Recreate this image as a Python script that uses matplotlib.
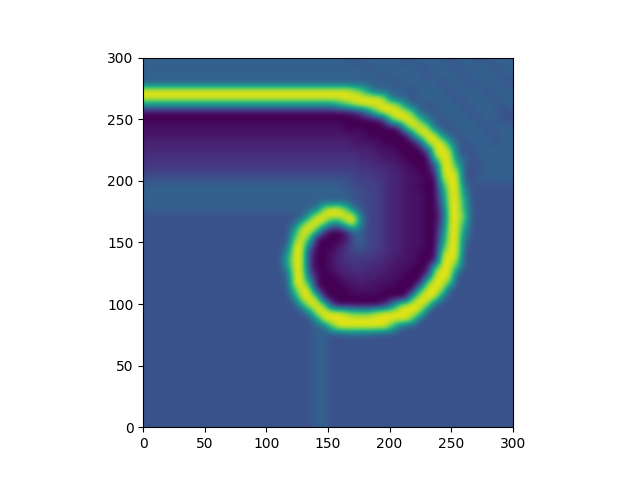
import numpy as np
import matplotlib
matplotlib.use("Agg")
import matplotlib.pyplot as plt

# hex digit in a cell -> field value
levels = [0.0, 0.05, 0.10, 0.15, 0.20, 0.25, 0.31, 0.50, 0.75, 0.96, 0.40, 0.62, 0.87]

# top row first (y = 297 down to y = 3), columns x = 3 ... 297
rows = [
    "6666666666 6666666666 6666666656 6666656666 6566656666",
    "6666666666 6666666666 6666666666 5666666566 6656666566",
    "6666666666 6666666666 6666666666 6656666656 6665666656",
    "6666666666 6666666666 6666666666 6666566666 5666566665",
    "9999999999 9999999999 99999999c8 7666665666 6566665666",
    "9999999999 9999999999 9999999999 99ca665666 6656666566",
    "7777777777 7777777777 777777b8c9 9999c76656 6665666656",
    "0000000000 0000000000 0000000013 a899998665 6666566655",
    "0000000000 0000000000 0000000000 00289998a6 5666656655",
    "1111111111 1111111111 1111111000 00001899c6 6566665666",
    "1111111111 1111111111 1111111111 0000007999 a656666566",
    "2222222222 2222222222 2222222211 1100000699 9765666566",
    "2222222222 2222222222 2222222222 2111000069 9c65566666",
    "3333333333 3333333333 3333333332 221110000c 99a6566666",
    "3333333333 3333333333 3333333333 3222110006 99b6556666",
    "4444444444 4444444444 4444444443 3332211003 99c5556666",
    "5555555555 5555555555 5555555544 4332211100 c995566666",
    "6666666666 6666666666 6666666554 4432211000 b99a555555",
    "6666666666 6666666666 6666666655 4432211100 7997555555",
    "6666666666 6666666666 6666666655 4432211100 a99b555555",
    "6666666666 6666666666 666ac998a5 4432211100 699b555555",
    "5555555555 5555555555 55b999999a 4432211100 4998555555",
    "5555555555 5555555555 6899c77c9a 4432211100 699b555555",
    "5555555555 5555555555 b9983002a6 4432211100 a997555555",
    "5555555555 5555555555 8981000156 4432211100 799a555555",
    "5555555555 5555555556 99a0001356 4432211100 b996555555",
    "5555555555 5555555557 9930012344 4332211000 c995555555",
    "5555555555 555555555b 9930012333 3322111001 99c5555555",
    "5555555555 5555555557 9930012233 2221110008 99b5555555",
    "5555555555 5555555556 9961001222 2211100049 9955555555",
    "5555555555 5555555556 99b0000112 11110001c9 9855555555",
    "5555555555 5555555555 8993000011 1100000899 c555555555",
    "5555555555 5555555555 799c100000 0000008999 a555555555",
    "5555555555 5555555555 5b99c30000 00168999c5 5555555555",
    "5555555555 5555555555 5579999c88 8c99999c55 5555555555",
    "5555555555 5555555555 5557999999 9999998555 5555555555",
    "5555555555 5555555555 5556689999 9998a55555 5555555555",
    "5555555555 5555555555 5556655666 6555555555 5555555555",
    "5555555555 5555555555 5556655555 5555555555 5555555555",
    "5555555555 5555555555 5556655555 5555555555 5555555555",
    "5555555555 5555555555 5556655555 5555555555 5555555555",
    "5555555555 5555555555 5556655555 5555555555 5555555555",
    "5555555555 5555555555 5556655555 5555555555 5555555555",
    "5555555555 5555555555 5556655555 5555555555 5555555555",
    "5555555555 5555555555 5556655555 5555555555 5555555555",
    "5555555555 5555555555 5556655555 5555555555 5555555555",
    "5555555555 5555555555 5556655555 5555555555 5555555555",
    "5555555555 5555555555 5556655555 5555555555 5555555555",
    "5555555555 5555555555 5556655555 5555555555 5555555555",
    "5555555555 5555555555 5556655555 5555555555 5555555555",
]

field = np.array([[levels[int(c, 16)] for c in r.replace(" ", "")] for r in rows])

fig, ax = plt.subplots()
ax.imshow(field, extent=[0, 300, 0, 300], cmap="viridis", vmin=0, vmax=1,
          interpolation="bicubic")
fig.savefig("out.png", dpi=100)
